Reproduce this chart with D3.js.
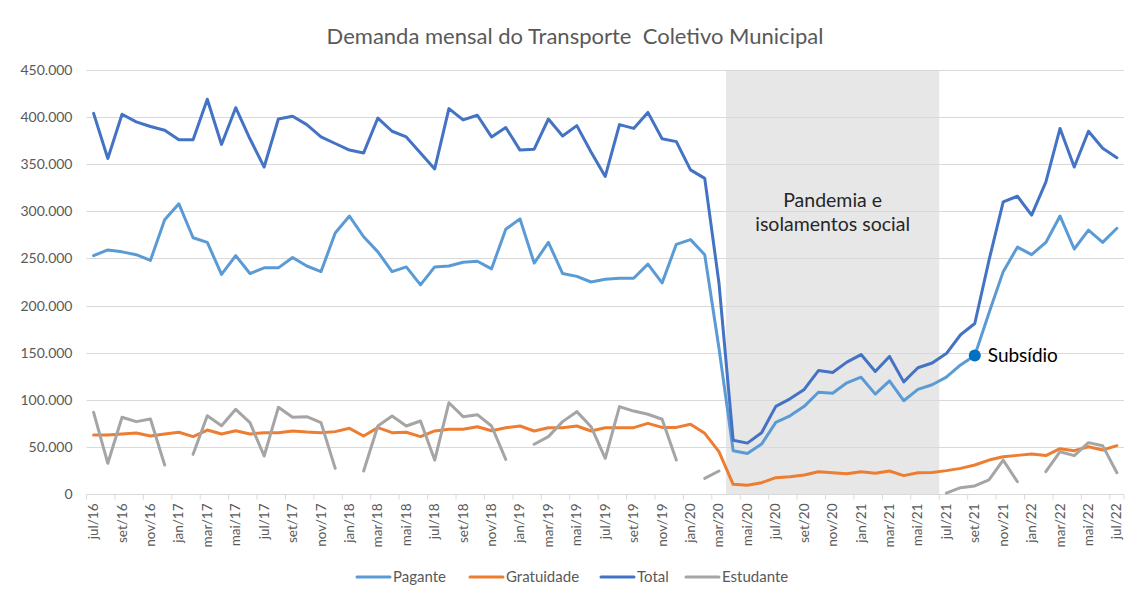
<!DOCTYPE html>
<html>
<head>
<meta charset="utf-8">
<script src="https://cdn.jsdelivr.net/npm/d3@7"></script>
<style>
  html, body { margin: 0; padding: 0; background: #fff; }
  svg { display: block; font-family: Lato, "Open Sans", sans-serif; }
</style>
</head>
<body>
<svg id="chart" width="1135" height="595"></svg>
<script>
// Monthly categories, jul/16 .. jul/22
const monthNames = ["jan","fev","mar","abr","mai","jun","jul","ago","set","out","nov","dez"];
const months = [];
for (let y = 2016, m = 6; y < 2022 || (y === 2022 && m <= 6); m++) {
  if (m === 12) { m = 0; y++; }
  months.push(monthNames[m] + "/" + String(y).slice(2));
}

// Passengers per month (thousands)
const pagante = [253,259,257,254,248,291,308,272,267,233,253,234,240,240,251,242,236,277,295,273,257,236,241,222,241,242,246,247,239,281,292,245,267,234,231,225,228,229,229,244,224,265,270,254,155,46,43,53,76,83,93,108,107,118,124,106,120,99,111,116,124,137,147,192,236,262,254,267,295,260,280,267,282];
const gratuidade = [62.6,62.6,63.7,64.8,61.6,63.7,65.5,60.9,67.9,63.7,67.2,63.7,65.1,65.1,66.9,65.8,65.1,66.2,69.7,61.6,70.4,65.1,65.5,60.9,66.9,68.7,68.7,71.4,67.2,70.4,72.2,66.9,70.4,70.4,72.2,66.9,70.4,70.4,70.4,75,70.7,70.7,74,64.4,44.9,10.3,9.2,12,17.3,18.4,20.2,23.7,22.6,21.6,23.7,22,24.4,19.5,22.6,22.9,24.8,27.2,30.8,36,39.6,41,42.5,40.8,48.1,46,50.2,46.7,51.3];
const total = [404,356,403,395,390,386,376,376,419,371,410,377,347,398,401,392,379,372,365,362,399,385,379,362,345,409,397,402,379,389,365,366,398,380,391,363,337,392,388,405,377,374,344,335,224,57,54,65,93,101,111,131,129,140,148,130,146,119,134,139,149,169,181,248,310,316,296,331,388,347,385,367,357];
const estudante = [86.7,32.6,81.4,76.8,79.6,30.8,null,42.1,83.1,72.5,89.9,75.7,40.3,92,81.4,82.1,75.7,27.2,null,24.4,72.2,82.8,72.2,77.5,36,96.9,82.1,84.2,72.2,36.8,null,52.8,60.9,76.8,87.4,71.4,37.9,92.7,88,84.6,79.3,36,null,16.6,24.4,null,null,null,null,null,null,null,null,null,null,null,null,null,null,null,1,6.7,8.5,14.9,36,13,null,23.7,44.9,40.7,54.5,51.3,22.6];

const yTicks = [0,50000,100000,150000,200000,250000,300000,350000,400000,450000];
const pandemicStart = "abr/20", pandemicEnd = "jun/21";
const subsidyMonth = "set/21";

const series = [
  { name: "Pagante",    values: pagante,    color: "#5B9BD5" },
  { name: "Gratuidade", values: gratuidade, color: "#ED7D31" },
  { name: "Total",      values: total,      color: "#4472C4" },
  { name: "Estudante",  values: estudante,  color: "#A5A5A5" }
];

const svg = d3.select("#chart");
const plot = { left: 86.5, right: 1124, top: 70, bottom: 494 };

const x = d3.scaleBand().domain(months).range([plot.left, plot.right]).padding(0);
const y = d3.scaleLinear().domain([0, 450000]).range([plot.bottom, plot.top]);
const cx = m => x(m) + x.bandwidth() / 2;
const fmt = v => v === 0 ? "0" : d3.format(",")(v).replace(/,/g, ".");

// Title
svg.append("text")
  .attr("x", 575).attr("y", 44)
  .attr("text-anchor", "middle")
  .attr("fill", "#595959")
  .style("font-size", "22px")
  .style("white-space", "pre")
  .text("Demanda mensal do Transporte  Coletivo Municipal");

// Pandemic shading
svg.append("rect")
  .attr("x", x(pandemicStart))
  .attr("y", y(450000))
  .attr("width", x(pandemicEnd) + x.bandwidth() - x(pandemicStart))
  .attr("height", y(0) - y(450000))
  .attr("fill", "#E7E7E7");

// Horizontal gridlines
svg.append("g")
  .selectAll("line")
  .data(yTicks.filter(d => d > 0))
  .join("line")
  .attr("x1", plot.left).attr("x2", plot.right)
  .attr("y1", d => Math.round(y(d)) + 0.5).attr("y2", d => Math.round(y(d)) + 0.5)
  .attr("stroke", "#D9D9D9").attr("stroke-width", 1);

// Y axis labels
const yAxis = d3.axisLeft(y).tickValues(yTicks).tickFormat(fmt).tickSize(0).tickPadding(14);
svg.append("g")
  .attr("transform", `translate(${plot.left},0)`)
  .call(yAxis)
  .call(g => g.select(".domain").remove())
  .call(g => g.selectAll("text").attr("fill", "#595959").style("font-size", "14px").style("font-family", "Lato, sans-serif"));

// X axis: baseline, tick marks every two months, rotated labels
const xAxisG = svg.append("g").attr("transform", `translate(0,${Math.round(plot.bottom) + 0.5})`);
xAxisG.append("line")
  .attr("x1", plot.left).attr("x2", plot.right)
  .attr("stroke", "#D9D9D9");
xAxisG.selectAll("line.tick")
  .data(months.filter((m, i) => i % 2 === 0).concat(["end"]))
  .join("line")
  .attr("class", "tick")
  .attr("x1", d => d === "end" ? plot.right : x(d))
  .attr("x2", d => d === "end" ? plot.right : x(d))
  .attr("y1", 0).attr("y2", 5)
  .attr("stroke", "#D9D9D9");
xAxisG.selectAll("text")
  .data(months.filter((m, i) => i % 2 === 0))
  .join("text")
  .attr("transform", d => `translate(${cx(d) + 4.5},9) rotate(-90)`)
  .attr("text-anchor", "end")
  .attr("fill", "#595959")
  .style("font-size", "13.5px")
  .text(d => d);

// Series lines
const line = d3.line()
  .defined(d => d.v != null)
  .x(d => cx(d.m))
  .y(d => y(d.v * 1000));

svg.append("g")
  .selectAll("path")
  .data(series)
  .join("path")
  .attr("d", s => line(s.values.map((v, i) => ({ m: months[i], v }))))
  .attr("fill", "none")
  .attr("stroke", s => s.color)
  .attr("stroke-width", 3)
  .attr("stroke-linejoin", "round")
  .attr("stroke-linecap", "round");

// Pandemic label
const midX = (x(pandemicStart) + x(pandemicEnd) + x.bandwidth()) / 2;
svg.append("text")
  .attr("x", midX).attr("y", 207)
  .attr("text-anchor", "middle")
  .attr("fill", "#262626")
  .style("font-size", "19.5px")
  .selectAll("tspan")
  .data(["Pandemia e", "isolamentos social"])
  .join("tspan")
  .attr("x", midX)
  .attr("dy", (d, i) => i === 0 ? 0 : 24)
  .text(d => d);

// Subsidy marker on Pagante
const subIdx = months.indexOf(subsidyMonth);
svg.append("circle")
  .attr("cx", cx(subsidyMonth))
  .attr("cy", y(pagante[subIdx] * 1000))
  .attr("r", 6)
  .attr("fill", "#0070C0");
svg.append("text")
  .attr("x", cx(subsidyMonth) + 13)
  .attr("y", y(pagante[subIdx] * 1000) + 7)
  .attr("fill", "#000")
  .style("font-size", "19px")
  .text("Subsídio");

// Legend
const legendPos = [357, 470, 601, 686];
const lg = svg.append("g").attr("transform", "translate(0,577)");
const items = lg.selectAll("g").data(series).join("g")
  .attr("transform", (d, i) => `translate(${legendPos[i]},0)`);
items.append("line")
  .attr("x1", 0).attr("x2", 33)
  .attr("stroke", d => d.color).attr("stroke-width", 3)
  .attr("stroke-linecap", "round");
items.append("text")
  .attr("x", 36).attr("y", 5)
  .attr("fill", "#595959")
  .style("font-size", "15px")
  .text(d => d.name);
</script>
</body>
</html>
